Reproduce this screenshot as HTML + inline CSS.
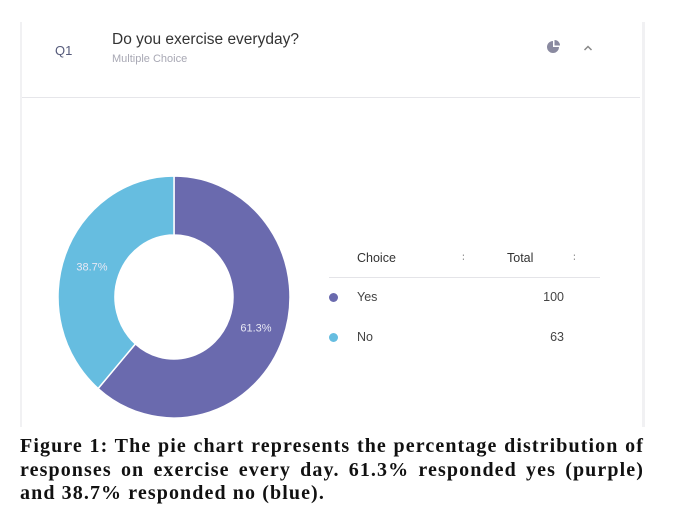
<!DOCTYPE html>
<html><head><meta charset="utf-8"><style>
body{margin:0;width:678px;height:523px;background:#fff;position:relative;overflow:hidden;font-family:"Liberation Sans",sans-serif}
.card{position:absolute;left:20px;top:22px;width:620px;height:405px;background:#fff;border-left:2px solid #f1f1f3;border-right:3px solid #f1f1f3}
.abs{position:absolute}
.cap{position:absolute;left:20px;top:435px;width:624px;font-family:"Liberation Serif",serif;font-weight:bold;font-size:20px;letter-spacing:1.1px;line-height:23.5px;color:#111}
.cap span{display:block;text-align:justify;text-align-last:justify;white-space:nowrap}
.cap span.last{text-align-last:left}
</style></head><body>
<div class="card"></div>
<div class="abs" style="left:55px;top:43px;font-size:13px;color:#555a7a">Q1</div>
<div class="abs" style="left:112px;top:31px;font-size:15.5px;color:#333">Do you exercise everyday?</div>
<div class="abs" style="left:112px;top:53px;font-size:11px;color:#a8a8b4">Multiple Choice</div>
<svg class="abs" style="left:546px;top:39px" width="16" height="16"><path d="M7,2 A6,6 0 1 0 13,8 L7,8 Z" fill="#8a8aa0"/><path d="M8.5,1 A5.5,5.5 0 0 1 14,6.5 L8.5,6.5Z" fill="#8a8aa0"/></svg>
<svg class="abs" style="left:583px;top:44px" width="10" height="8"><path d="M1.5,6 L5,2.5 L8.5,6" fill="none" stroke="#888" stroke-width="1.5"/></svg>
<div class="abs" style="left:22px;top:97px;width:618px;height:1px;background:#e6e6ea"></div>
<svg class="abs" style="left:0;top:0" width="678" height="430" id="chart"></svg>
<div class="abs" style="left:357px;top:251px;font-size:12.5px;color:#333">Choice</div>
<div class="abs" style="left:462px;top:251px;font-size:11px;color:#999">&#x2236;</div>
<div class="abs" style="left:507px;top:251px;font-size:12.5px;color:#333">Total</div>
<div class="abs" style="left:573px;top:251px;font-size:11px;color:#999">&#x2236;</div>
<div class="abs" style="left:329px;top:277px;width:271px;height:1px;background:#e4e4e8"></div>
<div id="rows"></div>
<div class="cap"><span>Figure 1: The pie chart represents the percentage distribution of</span><span>responses on exercise every day. 61.3% responded yes (purple)</span><span class="last">and 38.7% responded no (blue).</span></div>
<script>
const categories=["Yes","No"];
const totals=[100,63];
const percentLabels=["61.3%","38.7%"];
const colors=["#6a6aae","#66bde0"];
const svg=document.getElementById('chart');
const NS='http://www.w3.org/2000/svg';
const cx=174,cy=297,rx=116,ry=121,irx=59,iry=62;
const sum=totals.reduce((a,b)=>a+b,0);
function pt(a,rX,rY){return [cx+rX*Math.sin(a),cy-rY*Math.cos(a)];}
let a0=0;
totals.forEach((v,i)=>{
 const a1=a0+v/sum*2*Math.PI;
 const large=(a1-a0)>Math.PI?1:0;
 const p0=pt(a0,rx,ry),p1=pt(a1,rx,ry),q1=pt(a1,irx,iry),q0=pt(a0,irx,iry);
 const p=document.createElementNS(NS,'path');
 p.setAttribute('d',`M${p0}A${rx},${ry} 0 ${large} 1 ${p1}L${q1}A${irx},${iry} 0 ${large} 0 ${q0}Z`);
 p.setAttribute('fill',colors[i]);p.setAttribute('stroke','#fff');p.setAttribute('stroke-width','1.5');
 
 
 svg.appendChild(p);
 const mid=(a0+a1)/2;
 const lp=pt(mid,(rx+irx)/2,(ry+iry)/2-4);
 const t=document.createElementNS(NS,'text');
 t.setAttribute('x',lp[0]);t.setAttribute('y',lp[1]+4);t.setAttribute('text-anchor','middle');
 t.setAttribute('font-size','11');t.setAttribute('fill','#e8e8f4');t.setAttribute('font-family','Liberation Sans, sans-serif');
 t.textContent=percentLabels[i];
 
 
 svg.appendChild(t);
 a0=a1;
});
const rows=document.getElementById('rows');
categories.forEach((c,i)=>{
 const y=298+i*40;
 const d=document.createElement('div');
 d.className='abs';d.style.cssText=`left:329px;top:${y-5}px;width:9px;height:9px;border-radius:50%;background:${colors[i]}`;
 
 
 rows.appendChild(d);
 const l=document.createElement('div');
 l.className='abs';l.style.cssText=`left:357px;top:${y-8}px;font-size:12.5px;color:#444`;l.textContent=c;
 
 
 rows.appendChild(l);
 const v=document.createElement('div');
 v.className='abs';v.style.cssText=`right:${678-564}px;top:${y-8}px;font-size:12.5px;color:#444`;v.textContent=totals[i];
 
 
 rows.appendChild(v);
});
</script>
</body></html>
